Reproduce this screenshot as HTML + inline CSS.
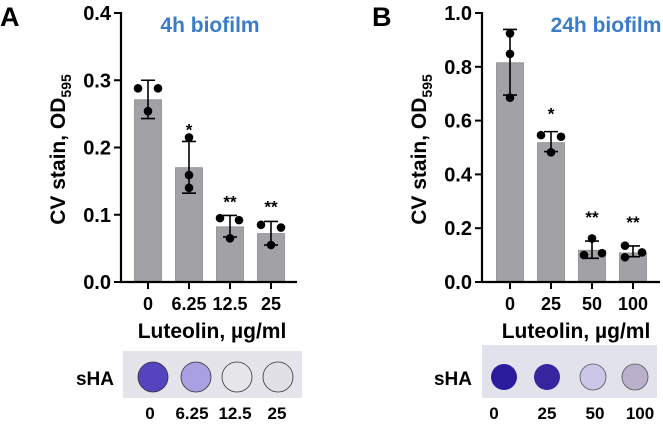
<!DOCTYPE html>
<html><head><meta charset="utf-8"><style>
body{margin:0;background:#fff;width:663px;height:420px;overflow:hidden;font-family:"Liberation Sans",Arial,sans-serif}
svg text{font-family:"Liberation Sans",Arial,sans-serif;font-weight:bold}
</style></head><body>
<svg id="chart" width="663" height="420">
<text x="0" y="26" font-size="27">A</text>
<text x="372" y="26" font-size="27">B</text>
<text x="210" y="32" font-size="21" fill="#3a7cc8" text-anchor="middle">4h biofilm</text>
<text x="606" y="32" font-size="21" fill="#3a7cc8" text-anchor="middle">24h biofilm</text>
<rect x="123" y="351" width="179" height="47" fill="#e4e4ea"/>
<rect x="482" y="345" width="175" height="53" fill="#e2e2ec"/>
<text x="95" y="385" font-size="19" text-anchor="middle">sHA</text>
<text x="453" y="385" font-size="19" text-anchor="middle">sHA</text>
<circle cx="153" cy="377" r="15" fill="#5544c0" stroke="#333" stroke-width="0.8"/>
<circle cx="196" cy="377" r="15" fill="#a8a0e0" stroke="#333" stroke-width="0.8"/>
<circle cx="237" cy="377" r="15" fill="#e6e6ea" stroke="#333" stroke-width="0.8"/>
<circle cx="278" cy="377" r="15" fill="#e0e0e6" stroke="#333" stroke-width="0.8"/>
<circle cx="504" cy="377" r="13" fill="#2a1c9c"/>
<circle cx="547" cy="377" r="13" fill="#3526a0"/>
<circle cx="593" cy="377" r="13" fill="#cdc6e8" stroke="#555" stroke-width="0.8"/>
<circle cx="635" cy="377" r="13" fill="#bab0cc" stroke="#555" stroke-width="0.8"/>
<g font-size="17">
<text x="150" y="419" text-anchor="middle">0</text>
<text x="192" y="419" text-anchor="middle">6.25</text>
<text x="235" y="419" text-anchor="middle">12.5</text>
<text x="277" y="419" text-anchor="middle">25</text>
<text x="494" y="419" text-anchor="middle">0</text>
<text x="547" y="419" text-anchor="middle">25</text>
<text x="595" y="419" text-anchor="middle">50</text>
<text x="640" y="419" text-anchor="middle">100</text>
</g>
</svg>
<script>
const catsA=["0","6.25","12.5","25"];
const meansA=[0.271,0.170,0.082,0.072];
const errHiA=[0.300,0.209,0.099,0.090];
const errLoA=[0.243,0.132,0.067,0.055];
const ptsA=[[0.288,0.288,0.254],[0.215,0.159,0.140],[0.095,0.092,0.065],[0.085,0.081,0.055]];
const starsA=["","*","**","**"];
const ticksA=["0.0","0.1","0.2","0.3","0.4"];
const catsB=["0","25","50","100"];
const meansB=[0.815,0.518,0.118,0.108];
const errHiB=[0.939,0.559,0.152,0.134];
const errLoB=[0.695,0.485,0.088,0.094];
const ptsB=[[0.924,0.848,0.685],[0.546,0.540,0.482],[0.162,0.100,0.107],[0.135,0.092,0.110]];
const starsB=["","*","**","**"];
const ticksB=["0.0","0.2","0.4","0.6","0.8","1.0"];
const svg=document.getElementById('chart');
const NS='http://www.w3.org/2000/svg';
function mk(tag,attrs,txt){const e=document.createElementNS(NS,tag);for(const k in attrs)e.setAttribute(k,attrs[k]);if(txt!=null)e.textContent=txt;svg.appendChild(e);return e;}
function panel(p,ax,axEnd,centers,ymax,cats,means,hi,lo,pts,stars,ticks,titleX,starY,jit){
  const y0=282,y1=13;
  const Y=v=>y0-(v/ymax)*(y0-y1);
  const bw=27;
  means.forEach((m,i)=>{
    const c=centers[i];
    const b=mk('rect',{x:c-bw/2,y:Y(m),width:bw,height:y0-Y(m),fill:'#a2a2a6',stroke:'#8a8a8e','stroke-width':0.8});
    
    
    const e=mk('path',{d:`M${c},${Y(hi[i])}V${Y(lo[i])}M${c-7},${Y(hi[i])}H${c+7}M${c-7},${Y(lo[i])}H${c+7}`,stroke:'#000','stroke-width':1.6,fill:'none'});
    
    
    pts[i].forEach((v,j)=>{
      const pt=mk('circle',{cx:c+jit[i][j],cy:Y(v),r:4.3,fill:'#000'});
      
      
    });
    if(stars[i]){
      const s=mk('text',{x:c,y:Y(hi[i])-starY[i],'font-size':17,'text-anchor':'middle','font-weight':'normal'},stars[i]);
      
      
    }
    const tk=mk('line',{x1:c,x2:c,y1:y0,y2:y0+7,stroke:'#000','stroke-width':2});
    
    
    const tl=mk('text',{x:c,y:310,'font-size':18,'text-anchor':'middle'},cats[i]);
    
    
  });
  const axes=mk('path',{d:`M${ax},${y1-1}V${y0}H${axEnd}`,stroke:'#000','stroke-width':2.2,fill:'none'});
  
  
  ticks.forEach(t=>{
    const v=parseFloat(t);
    const l=mk('line',{x1:ax-7,x2:ax,y1:Y(v),y2:Y(v),stroke:'#000','stroke-width':2});
    
    
    const tx=mk('text',{x:ax-10,y:Y(v)+7,'font-size':20,'text-anchor':'end'},t);
    
    
  });
  const yt=mk('text',{x:0,y:0,'font-size':21,'text-anchor':'middle',transform:`translate(${ax-56},${(y0+y1)/2+2}) rotate(-90)`});
  yt.innerHTML='CV stain, OD<tspan font-size="14" dy="6">595</tspan>';
  
  
  const xt=mk('text',{x:titleX,y:338,'font-size':21,'text-anchor':'middle'},'Luteolin, µg/ml');
  
  
}
panel('a',121,297,[148,189,230,271],0.4,catsA,meansA,errHiA,errLoA,ptsA,starsA,ticksA,212,[0,6,8,9],
  [[-10,10,0],[0,0,0],[-10,9,0],[-10,10,0]]);
panel('b',482,660,[510,551,592,633],1.0,catsB,meansB,errHiB,errLoB,ptsB,starsB,ticksB,576,[0,12,18,18],
  [[0,0,0],[-10,10,0],[0,-8,10],[-8,-8,9]]);
</script>
</body></html>
